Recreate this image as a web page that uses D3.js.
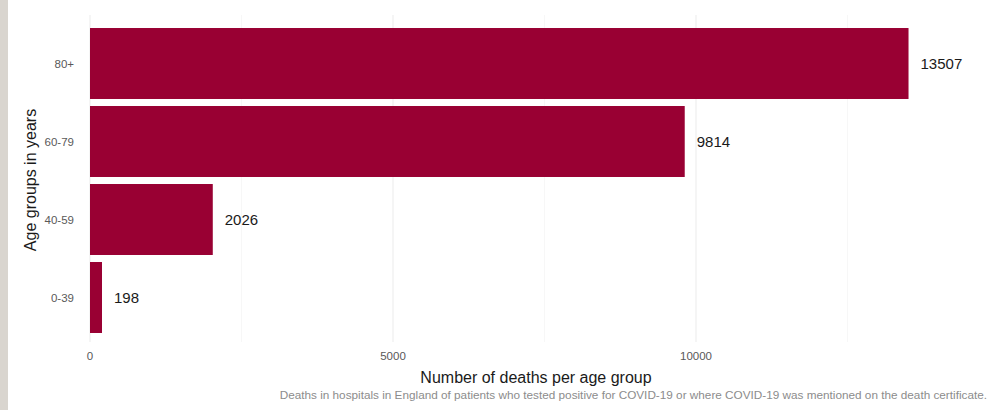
<!DOCTYPE html>
<html><head><meta charset="utf-8">
<script src="https://cdn.jsdelivr.net/npm/d3@7"></script>
<style>body{margin:0;background:#fff;}svg{display:block;font-family:"Liberation Sans",Arial,sans-serif;}</style>
</head><body>
<svg id="c" width="989" height="410"></svg>
<script>
const categories = ["80+", "60-79", "40-59", "0-39"];
const deaths = [13507, 9814, 2026, 198];
const xTicks = [0, 5000, 10000];
const xMinor = [2500, 7500, 12500];
const yTitle = "Age groups in years";
const xTitle = "Number of deaths per age group";
const caption = "Deaths in hospitals in England of patients who tested positive for COVID-19 or where COVID-19 was mentioned on the death certificate.";

(function(){
const svg = d3.select("#c");
svg.append("rect").attr("x",0).attr("y",0).attr("width",8).attr("height",410).attr("fill","#d9d5cf");

const x = d3.scaleLinear().domain([0, 5000]).range([90, 393]);
const step = 78;
const y = d3.scaleBand().domain(categories).range([63.5 - step/2, 297.5 + step/2]).paddingInner(0.09).paddingOuter(0.045);
const gridTop = 15, gridBottom = 342;

const g = svg.append("g");
g.selectAll("line.minor").data(xMinor).join("line")
  .attr("x1", d=>x(d)).attr("x2", d=>x(d)).attr("y1", gridTop).attr("y2", gridBottom)
  .attr("stroke", "#f2f2f2").attr("stroke-width", 0.6);
g.selectAll("line.major").data(xTicks).join("line")
  .attr("x1", d=>x(d)).attr("x2", d=>x(d)).attr("y1", gridTop).attr("y2", gridBottom)
  .attr("stroke", "#ebebeb").attr("stroke-width", 1);

const data = categories.map((c,i)=>({c, v: deaths[i]}));
svg.selectAll("rect.bar").data(data).join("rect")
  .attr("x", x(0)).attr("y", d=>y(d.c))
  .attr("width", d=>x(d.v)-x(0)).attr("height", y.bandwidth())
  .attr("fill", "#990033");

svg.selectAll("text.val").data(data).join("text")
  .attr("x", d=>x(d.v)+12).attr("y", d=>y(d.c)+y.bandwidth()/2)
  .attr("dy","0.35em").attr("font-size", 15).attr("fill", "#1a1a1a")
  .text(d=>d.v);

svg.selectAll("text.yl").data(categories).join("text")
  .attr("x", 74).attr("y", d=>y(d)+y.bandwidth()/2).attr("dy","0.35em")
  .attr("text-anchor","end").attr("font-size", 11.5).attr("fill","#595959").text(d=>d);

svg.selectAll("text.xl").data(xTicks).join("text")
  .attr("x", d=>x(d)).attr("y", 356).attr("dy","0.35em")
  .attr("text-anchor","middle").attr("font-size", 11.5).attr("fill","#595959").text(d=>d);

svg.append("text").attr("x", 536).attr("y", 377).attr("dy","0.35em")
  .attr("text-anchor","middle").attr("font-size", 16).attr("fill","#1a1a1a").text(xTitle);

svg.append("text").attr("transform","translate(30,180) rotate(-90)").attr("dy","0.35em")
  .attr("text-anchor","middle").attr("font-size", 16).attr("fill","#1a1a1a").text(yTitle);

svg.append("text").attr("x", 987).attr("y", 395).attr("dy","0.35em")
  .attr("text-anchor","end").attr("font-size", 11.75).attr("fill","#8c8c8c").text(caption);
})();
</script>
</body></html>
